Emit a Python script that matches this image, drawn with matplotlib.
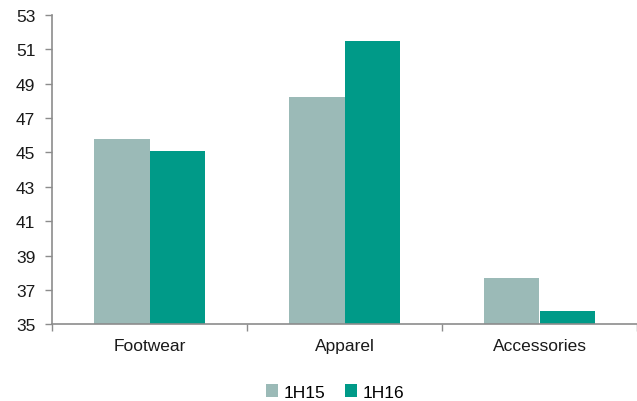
import matplotlib
matplotlib.use("Agg")
import matplotlib.pyplot as plt
import numpy as np

categories = ["Footwear", "Apparel", "Accessories"]
series_names = ["1H15", "1H16"]
values_1h15 = [45.8, 48.2, 37.7]
values_1h16 = [45.1, 51.5, 35.8]
y_ticks = [35, 37, 39, 41, 43, 45, 47, 49, 51, 53]

colors = ["#9BBAB7", "#009A88"]
axis_color = "#8C8C8C"
text_color = "#1a1a1a"
fs = 12.5

plt.rcParams["font.family"] = ["Liberation Sans", "DejaVu Sans"]

fig = plt.figure(figsize=(6.37, 4.02), dpi=100)
ax = fig.add_axes([52 / 637, 1 - 325.3 / 402, (637 - 52) / 637, (325.3 - 16) / 402])

x = np.arange(len(categories))
w = 0.285
ax.bar(x - w / 2, values_1h15, width=w, color=colors[0], label=series_names[0], zorder=2)
ax.bar(x + w / 2, values_1h16, width=w, color=colors[1], label=series_names[1], zorder=2)

ax.set_xlim(-0.5, len(categories) - 0.5)
ax.set_ylim(35, 53)
ax.set_yticks(y_ticks)
ax.set_yticklabels([str(t) for t in y_ticks], fontsize=fs, color=text_color)

# category labels centred, tick marks on category boundaries
ax.set_xticks(np.arange(-0.5, len(categories), 1.0))
ax.set_xticklabels([])
ax.set_xticks(x, minor=True)
ax.set_xticklabels(categories, minor=True, fontsize=fs, color=text_color)
ax.tick_params(axis="x", which="minor", length=0, pad=10)
ax.tick_params(axis="x", which="major", length=5, width=1, color=axis_color, direction="out")
ax.tick_params(axis="y", length=5, width=1, color=axis_color, direction="out", pad=7)

for side in ["top", "right"]:
    ax.spines[side].set_visible(False)
for side in ["left", "bottom"]:
    ax.spines[side].set_color(axis_color)
    ax.spines[side].set_linewidth(1.2)

leg = fig.legend(loc="center", bbox_to_anchor=(335 / 637, 1 - 393 / 402), ncol=2,
                 frameon=False, fontsize=fs, handlelength=0.7, handleheight=0.7,
                 handletextpad=0.35, columnspacing=1.1)

fig.savefig("out.png", dpi=100)
